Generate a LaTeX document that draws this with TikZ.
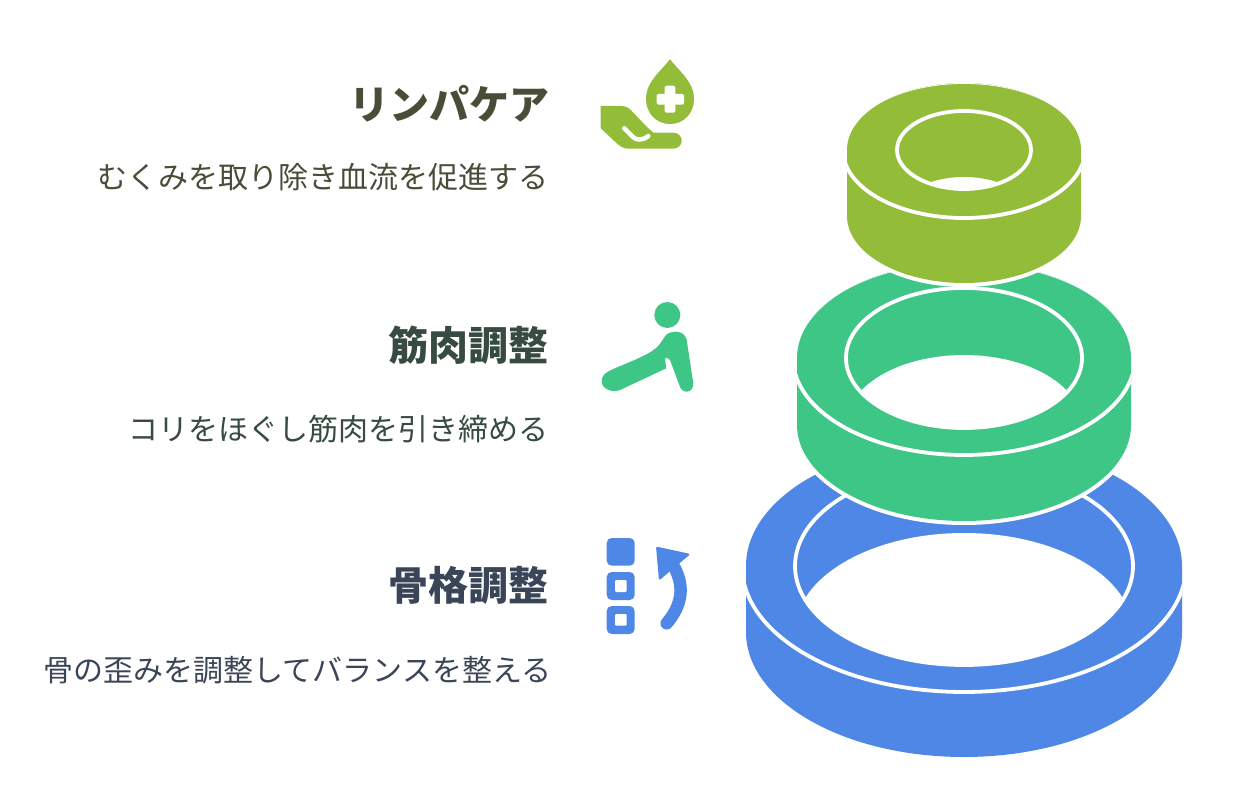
\documentclass[tikz,border=0pt]{standalone}
\usepackage{fontspec}
\setmainfont{Noto Sans CJK JP}
\definecolor{cyellow}{HTML}{93BD39}
\definecolor{cgreen}{HTML}{3EC687}
\definecolor{cblue}{HTML}{4E87E6}
\definecolor{tyellow}{HTML}{4A4C38}
\definecolor{tgreen}{HTML}{374B41}
\definecolor{tblue}{HTML}{3B4558}
\tikzset{
  titletext/.style={anchor=base east,inner sep=0pt,font=\fontsize{40}{48}\selectfont\bfseries},
  subtext/.style={anchor=base east,inner sep=0pt,font=\fontsize{30}{36}\selectfont},
  whiteline/.style={draw=white,line width=3.8pt},
}
% color, cy, rx, ry, height, inner rx, inner ry, rim rx
\newcommand{\ringdisc}[8]{%
  \def\cylpath{(964-#3,-#2) arc[start angle=180,end angle=0,x radius=#3,y radius=#4] -- (964+#3,-#2-#5) arc[start angle=0,end angle=-180,x radius=#3,y radius=#4] -- cycle}%
  \draw[white,line width=8pt,line join=round] \cylpath;
  \fill[#1] \cylpath;
  \begin{scope}
    \clip \cylpath;
    \draw[whiteline] (964,-#2) ellipse[x radius=#8,y radius=#4+1];
    \fill[#1] (964,-#2) ellipse[x radius=#6,y radius=#7];
  \end{scope}
  \begin{scope}
    \clip (964,-#2) ellipse[x radius=#6,y radius=#7];
    \fill[white] (964,-#2-#5) ellipse[x radius=#6,y radius=#7];
  \end{scope}
  \draw[whiteline] (964,-#2) ellipse[x radius=#6,y radius=#7];
}
\begin{document}
\begin{tikzpicture}[x=1pt,y=1pt]
\useasboundingbox (0,-799) rectangle (1240,0);
% rings
\ringdisc{cblue}{566}{218}{125}{66}{169}{99}{222}
\ringdisc{cgreen}{358}{167}{96}{67}{118}{70}{171}
\ringdisc{cyellow}{150}{117}{67}{66}{67}{39}{121}
% texts
\node[titletext,text=tyellow] (t1) at (550,-119.5) {リンパケア};
\node[subtext,text=tyellow] (s1) at (548.5,-189) {むくみを取り除き血流を促進する};
\node[titletext,text=tgreen] (t2) at (549,-361) {筋肉調整};
\node[subtext,text=tgreen] (s2) at (548.5,-441) {コリをほぐし筋肉を引き締める};
\node[titletext,text=tblue] (t3) at (549,-600.5) {骨格調整};
\node[subtext,text=tblue] (s3) at (551.5,-681) {骨の歪みを調整してバランスを整える};
% hand and drop icon
\fill[cyellow] (670,-59.3) .. controls (660,-72) and (646,-82) .. (646,-99)
  .. controls (646,-113) and (656,-124) .. (670,-124)
  .. controls (684,-124) and (694,-113) .. (694,-99)
  .. controls (694,-82) and (680,-72) .. (670,-59.3) -- cycle;
\fill[white,rounded corners=1.5pt] (664.6,-85.7) rectangle (675.4,-112.7);
\fill[white,rounded corners=1.5pt] (656.7,-93.8) rectangle (684,-104.6);
\fill[cyellow] (600.7,-106) -- (621.7,-106) .. controls (626,-106) and (630,-108.5) .. (633.3,-112.7)
  -- (647.3,-127.3) -- (653.3,-132.7) -- (673.3,-132.7)
  .. controls (678,-132.7) and (681.7,-136) .. (681.7,-140.7)
  .. controls (681.7,-145) and (678,-148.7) .. (673.3,-148.7)
  -- (628.3,-148.7) .. controls (623,-148.7) and (619,-145.5) .. (615,-141.7)
  -- (600.7,-128.3) -- cycle;
\draw[white,line width=4.5pt,line cap=round] (624.3,-128.3) -- (633.3,-137.3)
  .. controls (636,-140) and (642,-141) .. (648.3,-136);
% person icon
\fill[cgreen] (667.3,-315) circle[radius=13];
\fill[cgreen] (610,-370.5) .. controls (626,-363) and (648,-356) .. (657.5,-346.7)
  .. controls (661,-343) and (663,-339) .. (666,-335)
  .. controls (669,-332.5) and (672,-331.7) .. (676.7,-331.7)
  .. controls (682,-331.7) and (686,-336) .. (686.7,-340)
  -- (693.3,-383.3) .. controls (693.5,-388) and (690.5,-391.7) .. (686.7,-391.7)
  .. controls (683,-391.7) and (680.5,-389) .. (679.3,-385)
  -- (670,-360) .. controls (668,-357.5) and (664.5,-357.5) .. (665,-359)
  -- (666.3,-368.3) -- (620,-390)
  .. controls (612,-393) and (602,-389) .. (601.7,-381.7)
  .. controls (601.5,-376) and (605,-373) .. (610,-370.5) -- cycle;
% squares and arrow icon
\fill[cblue,rounded corners=5pt] (606.7,-538) rectangle (634.7,-565.7);
\fill[cblue,rounded corners=5pt] (606.7,-572) rectangle (634.7,-600);
\fill[white,rounded corners=1pt] (615,-580) rectangle (626.7,-592);
\fill[cblue,rounded corners=5pt] (606.7,-606) rectangle (634.7,-634);
\fill[white,rounded corners=1pt] (615,-614) rectangle (626.7,-625.7);
\draw[cblue,line width=12.5pt,line cap=round] (666.7,-623.3) .. controls (678,-610) and (688,-590) .. (673,-565);
\fill[cblue,rounded corners=1.5pt] (656,-546.5) -- (690.5,-554) -- (659,-580.5) -- cycle;
\end{tikzpicture}
\end{document}
